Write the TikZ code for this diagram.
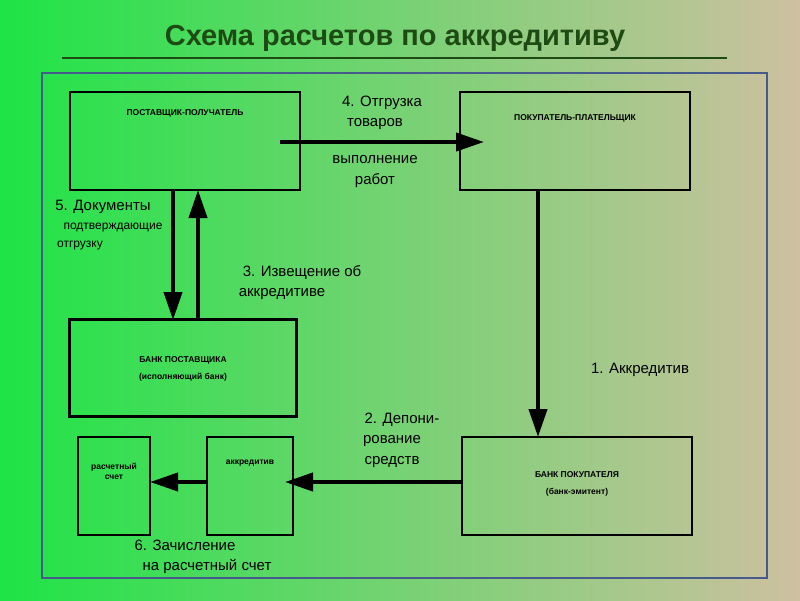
\documentclass[tikz,border=0pt]{standalone}
\usepackage{fontspec}
\setmainfont{Liberation Sans}
\usetikzlibrary{arrows.meta}
\definecolor{tgreen}{RGB}{30,75,20}
\definecolor{bgl}{RGB}{30,228,70}
\definecolor{bgr}{RGB}{206,192,160}
\definecolor{frm}{RGB}{70,90,140}
\begin{document}
\begin{tikzpicture}[x=1pt,y=-1pt,
 box/.style={draw=black,line width=2.5pt},
 arr/.style={line width=4pt,-{Triangle[length=28pt,width=18pt]}},
 lab/.style={font=\fontsize{15}{16}\selectfont},
 sm/.style={font=\bfseries\fontsize{8.5}{10}\selectfont}]
\useasboundingbox (0,0) rectangle (800,600);
\shade[left color=bgl, right color=bgr] (0,0) rectangle (800,600);
\node[font=\bfseries\fontsize{29}{31}\selectfont, text=tgreen] (title) at (395,38) {Схема расчетов по аккредитиву};
\draw[line width=2.5pt,tgreen] (62,58) -- (727,58);
\draw[line width=1.2pt,frm] (42,73) rectangle (767,578);
\node[box,minimum width=230,minimum height=98] (sup) at (185,141) {};
\node[sm] at (185,113) {ПОСТАВЩИК-ПОЛУЧАТЕЛЬ};
\node[box,minimum width=230,minimum height=98] (buy) at (575,141) {};
\node[sm] at (575,118) {ПОКУПАТЕЛЬ-ПЛАТЕЛЬЩИК};
\node[box,minimum width=227,minimum height=97] (bs) at (183,368) {};
\node[sm] at (183,360) {БАНК ПОСТАВЩИКА};
\node[sm] at (183,377) {(исполняющий банк)};
\node[box,minimum width=230,minimum height=98] (bb) at (577,486) {};
\node[sm] at (577,475) {БАНК ПОКУПАТЕЛЯ};
\node[sm] at (577,492) {(банк-эмитент)};
\node[box,minimum width=72,minimum height=98] (rs) at (114,486) {};
\node[sm,align=center] at (114,471) {расчетный\\счет};
\node[box,minimum width=86,minimum height=98] (ak) at (250,486) {};
\node[sm] at (250,463) {аккредитив};
\coordinate (a1) at (280,142); \coordinate (a2) at (484,142);
\draw[arr] (a1) -- (a2);
\draw[arr] (buy.south -| 538,0) -- (538,437);
\draw[arr] (bb.west |- 0,482) -- (285,482);
\draw[arr] (ak.west |- 0,482) -- (150,482);
\draw[arr] (173,190) -- (173,320);
\draw[arr] (198,320) -- (198,190);
\node[lab] at (382,103) {4. Отгрузка};
\node[lab] at (375,124) {товаров};
\node[lab] at (375,160) {выполнение};
\node[lab] at (375,181) {работ};
\node[lab] at (103,207) {5. Документы};
\node[lab,font=\fontsize{12}{13}\selectfont] at (113,228) {подтверждающие};
\node[lab,font=\fontsize{12}{13}\selectfont] at (80,246) {отгрузку};
\node[lab] at (302,272) {3. Извещение об};
\node[lab] at (282,294) {аккредитиве};
\node[lab] at (640,370) {1. Аккредитив};
\node[lab] at (402,420) {2. Депони-};
\node[lab] at (392,441) {рование};
\node[lab] at (392,462) {средств};
\node[lab] at (185,545) {6. Зачисление};
\node[lab] at (207,566) {на расчетный счет};
\end{tikzpicture}
\end{document}
